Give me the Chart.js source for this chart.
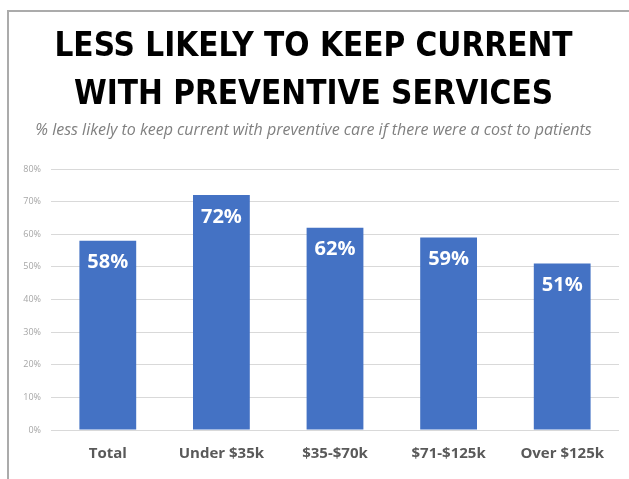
<!DOCTYPE html>
<html>
<head>
<meta charset="utf-8">
<script src="https://cdn.jsdelivr.net/npm/chart.js@4.4.1/dist/chart.umd.min.js"></script>
<style>
  html, body { margin:0; padding:0; background:#fff; }
  #wrap { position:relative; width:629px; height:479px; overflow:hidden; }
  #frame { position:absolute; left:7px; top:10px; right:-5px; bottom:-5px;
           border-top:2px solid #ababab; border-left:2px solid #ababab; }
  canvas { position:absolute; left:0; top:0; }
</style>
</head>
<body>
<div id="wrap">
  <div id="frame"></div>
  <canvas id="chart" width="629" height="479"></canvas>
</div>
<script>
const categories = ['Total', 'Under $35k', '$35-$70k', '$71-$125k', 'Over $125k'];
const values = [58, 72, 62, 59, 51];
const yTicks = [0, 10, 20, 30, 40, 50, 60, 70, 80];

const titleLines = ['LESS LIKELY TO KEEP CURRENT', 'WITH PREVENTIVE SERVICES'];
const subtitleText = '% less likely to keep current with preventive care if there were a cost to patients';

// white value labels inside the top of each bar
const barLabels = {
  id: 'barLabels',
  afterDatasetsDraw(chart){
    const ctx = chart.ctx;
    const meta = chart.getDatasetMeta(0);
    ctx.save();
    ctx.fillStyle = '#ffffff';
    ctx.font = 'bold 20px "Open Sans"';
    ctx.textAlign = 'center';
    ctx.textBaseline = 'middle';
    meta.data.forEach((bar, i) => {
      ctx.fillText(values[i] + '%', bar.x, bar.y + 22);
    });
    ctx.restore();
  }
};

new Chart(document.getElementById('chart').getContext('2d'), {
  type: 'bar',
  data: {
    labels: categories,
    datasets: [{
      data: values,
      backgroundColor: '#4472c4',
      borderWidth: 0,
      barPercentage: 0.5,
      categoryPercentage: 1
    }]
  },
  options: {
    responsive: false,
    animation: false,
    layout: { padding: { left: 8, right: 10, bottom: 0, top: 0 } },
    plugins: {
      legend: { display: false },
      tooltip: { enabled: false },
      title: {
        display: true,
        text: titleLines,
        color: '#000000',
        font: { family: '"DejaVu Sans Condensed", "DejaVu Sans", sans-serif', weight: 'bold', size: 33, lineHeight: '48px' },
        padding: { top: 23, bottom: 1 }
      },
      subtitle: {
        display: true,
        text: subtitleText,
        color: '#808080',
        font: { family: '"Open Sans", sans-serif', style: 'italic', size: 16, lineHeight: '20px' },
        padding: { top: 0, bottom: 29 }
      }
    },
    scales: {
      x: {
        afterFit(scale){ scale.height = 49; },
        grid: { display: false },
        border: { display: false },
        ticks: {
          color: '#595959',
          padding: 7,
          font: { family: '"Open Sans"', weight: 'bold', size: 15 }
        }
      },
      y: {
        min: 0,
        max: yTicks[yTicks.length - 1],
        afterFit(scale){ scale.width = 43; },
        afterBuildTicks(scale){ scale.ticks = yTicks.map(v => ({ value: v })); },
        grid: { color: '#d9d9d9', drawTicks: false },
        border: { display: false },
        ticks: {
          color: '#a6a6a6',
          padding: 10,
          font: { family: '"Open Sans"', size: 9 },
          callback: v => v + '%'
        }
      }
    }
  },
  plugins: [barLabels]
});
</script>
</body>
</html>
